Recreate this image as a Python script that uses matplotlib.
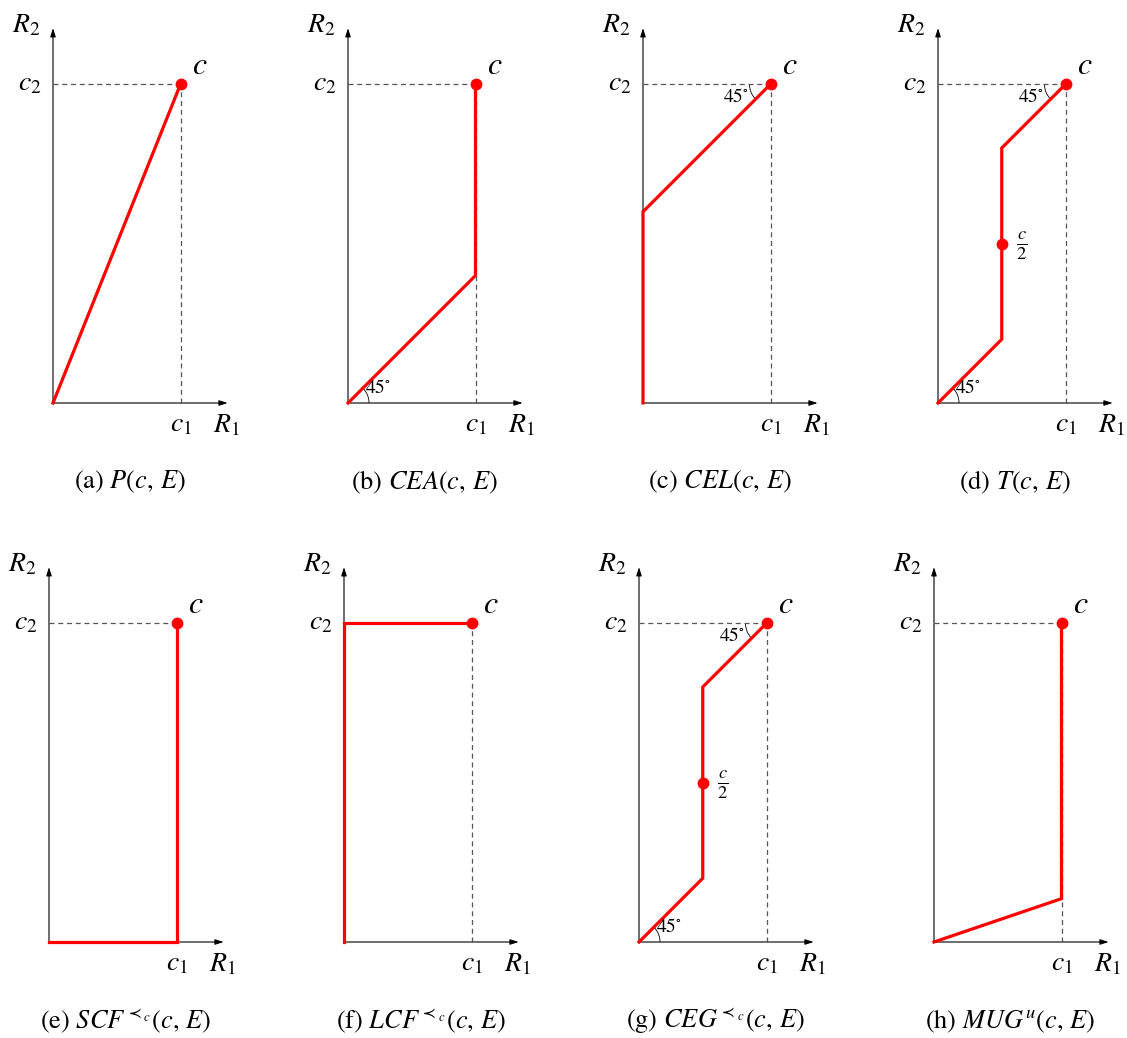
import numpy as np
import matplotlib.pyplot as plt
from matplotlib.patches import Arc

plt.rcParams['font.family'] = 'STIXGeneral'
plt.rcParams['mathtext.fontset'] = 'stix'

# claim point c = (c1, c2)
c1, c2 = 1.0, 2.5

# rule paths (R1, R2) from origin to c
P_x, P_y = [0, 1.0], [0, 2.5]
CEA_x, CEA_y = [0, 1.0, 1.0], [0, 1.0, 2.5]
CEL_x, CEL_y = [0, 0, 1.0], [0, 1.5, 2.5]
T_x, T_y = [0, 0.5, 0.5, 1.0], [0, 0.5, 2.0, 2.5]
SCF_x, SCF_y = [0, 1.0, 1.0], [0, 0, 2.5]
LCF_x, LCF_y = [0, 0, 1.0], [0, 2.5, 2.5]
CEG_x, CEG_y = [0, 0.5, 0.5, 1.0], [0, 0.5, 2.0, 2.5]
MUG_x, MUG_y = [0, 1.0, 1.0], [0, 0.34, 2.5]

half_x, half_y = 0.5, 1.25

captions = [r'(a) $P(c,\,E)$', r'(b) $CEA(c,\,E)$', r'(c) $CEL(c,\,E)$', r'(d) $T(c,\,E)$',
            r'(e) $SCF^{\prec_c}(c,\,E)$', r'(f) $LCF^{\prec_c}(c,\,E)$',
            r'(g) $CEG^{\prec_c}(c,\,E)$', r'(h) $MUG^u(c,\,E)$']
paths = [(P_x, P_y), (CEA_x, CEA_y), (CEL_x, CEL_y), (T_x, T_y),
         (SCF_x, SCF_y), (LCF_x, LCF_y), (CEG_x, CEG_y), (MUG_x, MUG_y)]
has_half = [False, False, False, True, False, False, True, False]
angle_low = [False, True, False, True, False, False, True, False]
angle_top = [False, False, True, True, False, False, True, False]

# origin of each panel in pixels
origins = [(53, 403), (348, 403), (643, 403), (938, 403),
           (49, 942), (344, 942), (639, 942), (934, 942)]

W, H = 1127, 1038
s = 127.5  # pixels per unit
xlo, xhi = -0.4, 1.8
ylo, yhi = -0.72, 3.1

fig = plt.figure(figsize=(W / 100, H / 100), dpi=100)

red = '#ff0000'
fs = 20

for i in range(8):
    ox, oy = origins[i]
    left = (ox + xlo * s) / W
    bottom = (H - (oy - ylo * s)) / H
    ax = fig.add_axes([left, bottom, (xhi - xlo) * s / W, (yhi - ylo) * s / H])
    ax.set_xlim(xlo, xhi)
    ax.set_ylim(ylo, yhi)
    ax.axis('off')

    # axes with arrows
    ax.annotate('', xy=(1.37, 0), xytext=(0, 0),
                arrowprops=dict(arrowstyle='-|>,head_length=0.5,head_width=0.16',
                                lw=0.8, color='black', shrinkA=0, shrinkB=0), zorder=1)
    ax.annotate('', xy=(0, 2.94), xytext=(0, 0),
                arrowprops=dict(arrowstyle='-|>,head_length=0.5,head_width=0.16',
                                lw=0.8, color='black', shrinkA=0, shrinkB=0), zorder=1)

    # dashed guides
    ax.plot([0, c1], [c2, c2], ls=(0, (4, 3)), color='#555555', lw=0.9, zorder=2)
    ax.plot([c1, c1], [0, c2], ls=(0, (4, 3)), color='#555555', lw=0.9, zorder=2)

    px, py = paths[i]
    ax.plot(px, py, color=red, lw=2.3, solid_joinstyle='miter', zorder=3)
    ax.plot([c1], [c2], 'o', color=red, ms=7.5, zorder=4)
    if has_half[i]:
        ax.plot([half_x], [half_y], 'o', color=red, ms=7.5, zorder=4)
        ax.text(half_x + 0.11, half_y - 0.02, r'$\frac{c}{2}$', fontsize=19,
                ha='left', va='center')

    if angle_low[i]:
        ax.add_patch(Arc((0, 0), 0.33, 0.33, theta1=0, theta2=45, lw=0.6, color='black'))
        ax.text(0.13, 0.12, r'$45^{\circ}$', fontsize=14, ha='left', va='center')
    if angle_top[i]:
        ax.add_patch(Arc((c1, c2), 0.33, 0.33, theta1=180, theta2=225, lw=0.6, color='black'))
        ax.text(c1 - 0.17, c2 - 0.1, r'$45^{\circ}$', fontsize=14, ha='right', va='center')

    # labels
    ax.text(-0.21, 2.96, '$R_2$', fontsize=fs, ha='center', va='center')
    ax.text(-0.09, c2, '$c_2$', fontsize=fs, ha='right', va='center')
    ax.text(c1 + 0.15, c2 + 0.14, '$c$', fontsize=fs + 3, ha='center', va='center')
    ax.text(c1, -0.17, '$c_1$', fontsize=fs, ha='center', va='center')
    ax.text(1.36, -0.18, '$R_1$', fontsize=fs, ha='center', va='center')

    ax.text(0.6, -0.62, captions[i], fontsize=19, ha='center', va='center')

fig.savefig('out.png', dpi=100)
